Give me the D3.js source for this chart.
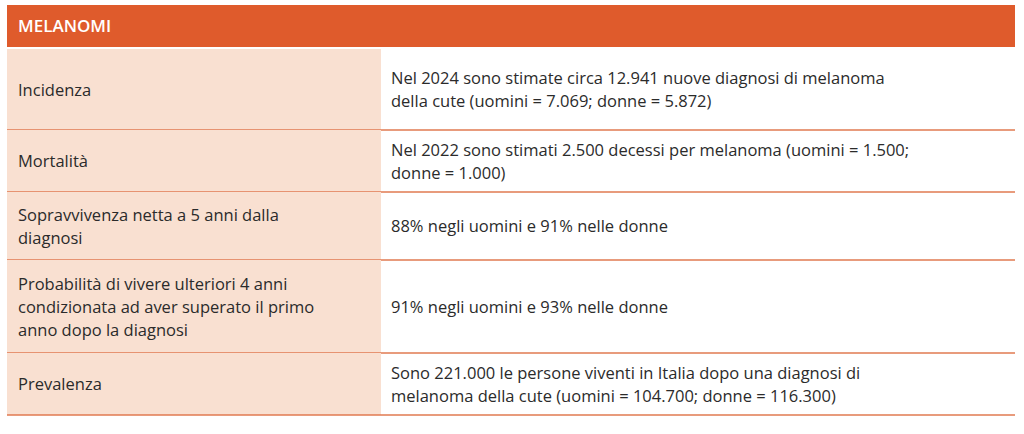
<!DOCTYPE html><html><head><meta charset="utf-8">
<script src="https://cdn.jsdelivr.net/npm/d3@7"></script>
<style>body{margin:0;background:#fff}</style></head><body><svg id="c" width="1024" height="434"></svg>
<script>
const title = "MELANOMI";
const labels = [["Incidenza"],["Mortalità"],["Sopravvivenza netta a 5 anni dalla","diagnosi"],["Probabilità di vivere ulteriori 4 anni","condizionata ad aver superato il primo","anno dopo la diagnosi"],["Prevalenza"]];
const texts = [["Nel 2024 sono stimate circa 12.941 nuove diagnosi di melanoma","della cute (uomini = 7.069; donne = 5.872)"],["Nel 2022 sono stimati 2.500 decessi per melanoma (uomini = 1.500;","donne = 1.000)"],["88% negli uomini e 91% nelle donne"],["91% negli uomini e 93% nelle donne"],["Sono 221.000 le persone viventi in Italia dopo una diagnosi di","melanoma della cute (uomini = 104.700; donne = 116.300)"]];
const bounds = [49,130,192,260,353,415];
const svg = d3.select("#c");
const X0=7,X1=1015,XM=381,LH=23;
svg.append("rect").attr("x",X0).attr("y",5).attr("width",X1-X0).attr("height",42).attr("fill","#df5b2c");
svg.append("text").attr("x",18).attr("y",32).attr("fill","#fff").attr("font-family","'Open Sans',sans-serif").attr("font-size",17).attr("font-weight",600).text(title);
labels.forEach((l,i)=>{
  const y0=bounds[i],y1=bounds[i+1],cy=(y0+y1)/2;
  svg.append("rect").attr("x",X0).attr("y",y0).attr("width",XM-X0).attr("height",y1-y0).attr("fill","#f9e0d1");
  const g=svg.append("g").attr("font-family","'Open Sans',sans-serif").attr("font-size",16.5).attr("fill","#2b2b2b");
  l.forEach((s,j)=>g.append("text").attr("x",18).attr("y",cy+(j-(l.length-1)/2)*LH+6).attr("font-weight",500).text(s));
  texts[i].forEach((s,j)=>g.append("text").attr("x",391).attr("y",cy+(j-(texts[i].length-1)/2)*LH+6).text(s));
  svg.append("line").attr("x1",X0).attr("x2",X1).attr("y1",y1).attr("y2",y1).attr("stroke","#e07a50").attr("stroke-width",1.5);
});
</script></body></html>
